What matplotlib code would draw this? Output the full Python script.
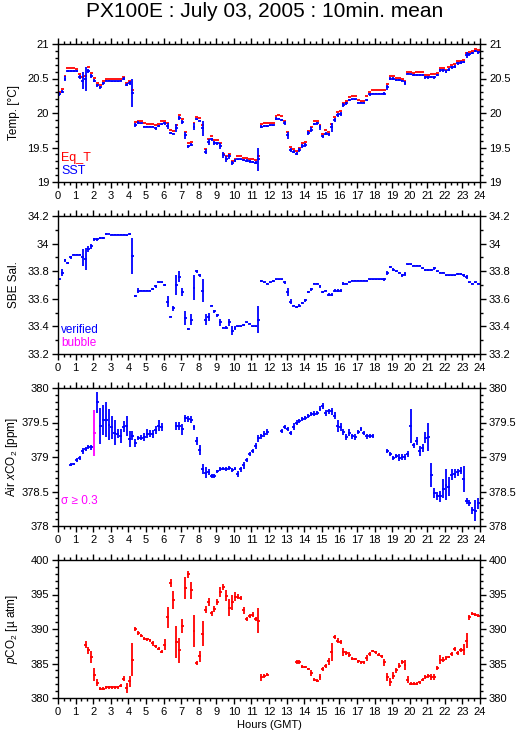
import numpy as np
import matplotlib
matplotlib.use("Agg")
import matplotlib.pyplot as plt
from matplotlib.ticker import MultipleLocator

plt.rcParams['font.family'] = ['Liberation Sans', 'DejaVu Sans']
plt.rcParams['mathtext.fontset'] = 'custom'
plt.rcParams['mathtext.rm'] = 'Liberation Sans'
plt.rcParams['mathtext.it'] = 'Liberation Sans:italic'

nan = np.nan

# 10 minute means, 6 per hour, 0h .. 24h
sst = [20.28, 20.31, 20.50, 20.61, 20.61, 20.61,
       20.61, 20.52, 20.47, 20.49, 20.61, 20.54,
       20.47, 20.40, 20.37, 20.43, 20.47, 20.47,
       20.46, 20.46, 20.46, 20.47, 20.50, 20.41,
       20.43, 20.29, 19.83, 19.86, 19.85, 19.80,
       19.80, 19.80, 19.80, 19.78, 19.81, 19.84,
       19.85, 19.81, 19.71, 19.70, 19.78, 19.93,
       19.87, 19.68, 19.52, 19.54, 19.80, 19.91,
       19.89, 19.78, 19.44, 19.58, 19.62, 19.56,
       19.56, 19.52, 19.39, 19.33, 19.37, 19.27,
       19.31, 19.33, 19.33, 19.32, 19.31, 19.30,
       19.29, 19.28, 19.33, 19.80, 19.81, 19.81,
       19.82, 19.82, 19.92, 19.92, 19.90, 19.86,
       19.68, 19.47, 19.44, 19.41, 19.46, 19.52,
       19.54, 19.71, 19.76, 19.84, 19.85, 19.79,
       19.66, 19.70, 19.69, 19.79, 19.90, 19.97,
       19.99, 20.11, 20.14, 20.19, 20.20, 20.20,
       20.15, 20.15, 20.15, 20.19, 20.27, 20.28,
       20.28, 20.28, 20.28, 20.28, 20.37, 20.50,
       20.50, 20.48, 20.48, 20.47, 20.43, 20.57,
       20.56, 20.55, 20.55, 20.55, 20.55, 20.52,
       20.52, 20.52, 20.52, 20.55, 20.62, 20.62,
       20.60, 20.63, 20.66, 20.67, 20.72, 20.73,
       20.74, 20.84, 20.85, 20.87, 20.90, 20.88]
sst_sd = [0.03, 0.02, 0.04, 0.02, 0.01, 0.01,
          0.01, 0.03, 0.12, 0.17, 0.03, 0.03,
          0.02, 0.02, 0.02, 0.02, 0.01, 0.01,
          0.01, 0.01, 0.01, 0.01, 0.02, 0.02,
          0.03, 0.20, 0.03, 0.02, 0.01, 0.01,
          0.01, 0.01, 0.01, 0.02, 0.02, 0.02,
          0.02, 0.04, 0.01, 0.01, 0.06, 0.03,
          0.03, 0.05, 0.02, 0.02, 0.05, 0.01,
          0.01, 0.11, 0.04, 0.04, 0.02, 0.03,
          0.02, 0.04, 0.04, 0.04, 0.03, 0.03,
          0.02, 0.01, 0.01, 0.01, 0.02, 0.02,
          0.02, 0.02, 0.17, 0.02, 0.02, 0.01,
          0.01, 0.01, 0.02, 0.01, 0.01, 0.03,
          0.05, 0.03, 0.02, 0.02, 0.03, 0.03,
          0.03, 0.03, 0.03, 0.02, 0.02, 0.03,
          0.02, 0.02, 0.02, 0.06, 0.03, 0.03,
          0.03, 0.03, 0.02, 0.02, 0.01, 0.01,
          0.01, 0.01, 0.01, 0.02, 0.02, 0.01,
          0.01, 0.01, 0.01, 0.02, 0.03, 0.02,
          0.02, 0.01, 0.01, 0.01, 0.03, 0.01,
          0.01, 0.01, 0.01, 0.01, 0.02, 0.02,
          0.02, 0.01, 0.02, 0.02, 0.02, 0.02,
          0.02, 0.02, 0.02, 0.02, 0.02, 0.02,
          0.02, 0.04, 0.02, 0.02, 0.02, 0.02]
eq_t = [20.31, 20.35, 20.53, 20.65, 20.65, 20.65,
        20.64, 20.57, 20.52, 20.54, 20.66, 20.58,
        20.51, 20.44, 20.41, 20.46, 20.50, 20.50,
        20.49, 20.49, 20.49, 20.50, 20.52, 20.44,
        20.46, 20.33, 19.87, 19.89, 19.88, 19.85,
        19.84, 19.84, 19.84, 19.82, 19.84, 19.88,
        19.88, 19.85, 19.75, 19.74, 19.82, 19.97,
        19.92, 19.72, 19.57, 19.58, 19.85, 19.94,
        19.93, 19.83, 19.48, 19.63, 19.67, 19.61,
        19.61, 19.56, 19.41, 19.38, 19.41, 19.31,
        19.34, 19.37, 19.37, 19.35, 19.35, 19.34,
        19.33, 19.32, 19.37, 19.84, 19.85, 19.85,
        19.85, 19.85, 19.96, 19.97, 19.95, 19.89,
        19.73, 19.51, 19.48, 19.45, 19.50, 19.56,
        19.58, 19.74, 19.79, 19.88, 19.89, 19.83,
        19.70, 19.75, 19.73, 19.84, 19.94, 20.01,
        20.03, 20.15, 20.18, 20.23, 20.24, 20.24,
        20.19, 20.18, 20.18, 20.24, 20.31, 20.33,
        20.33, 20.33, 20.33, 20.33, 20.42, 20.54,
        20.53, 20.51, 20.51, 20.50, 20.47, 20.60,
        20.59, 20.58, 20.59, 20.59, 20.59, 20.55,
        20.55, 20.56, 20.57, 20.58, 20.65, 20.65,
        20.63, 20.66, 20.69, 20.71, 20.75, 20.76,
        20.77, 20.87, 20.89, 20.90, 20.93, 20.91]

sal = [33.74, 33.79, 33.88, 33.86, 33.90, 33.92,
       33.92, 33.92, 33.90, 33.89, 33.96, 33.98,
       34.03, 34.03, 34.04, 34.04, 34.07, 34.07,
       34.065, 34.063, 34.063, 34.063, 34.063, 34.06,
       34.07, 33.91, 33.62, 33.66, 33.66, 33.66,
       33.66, 33.66, 33.67, 33.69, 33.72, 33.72,
       33.70, 33.58, 33.47, 33.53, 33.70, 33.76,
       33.65, 33.46, 33.38, 33.45, 33.68, 33.80,
       33.77, 33.66, 33.45, 33.47, 33.55, 33.51,
       33.48, 33.43, 33.39, 33.39, 33.43, 33.37,
       33.39, 33.40, 33.40, 33.41, 33.43, 33.42,
       33.40, 33.40, 33.45, 33.73, 33.72, 33.71,
       33.72, 33.73, 33.74, 33.74, 33.74, 33.72,
       33.65, 33.58, 33.55, 33.54, 33.55, 33.57,
       33.59, 33.65, 33.67, 33.71, 33.71, 33.69,
       33.65, 33.66, 33.63, 33.63, 33.66, 33.66,
       33.66, 33.71, 33.71, 33.72, 33.73, 33.73,
       33.73, 33.73, 33.73, 33.73, 33.74, 33.74,
       33.74, 33.74, 33.74, 33.74, 33.79, 33.83,
       33.81, 33.80, 33.79, 33.77, 33.78, 33.85,
       33.85, 33.84, 33.84, 33.84, 33.82, 33.81,
       33.81, 33.81, 33.82, 33.80, 33.79, 33.79,
       33.77, 33.77, 33.77, 33.77, 33.78, 33.78,
       33.77, 33.76, 33.72, 33.71, 33.72, 33.71]
sal_sd = [0.005, 0.025, 0.01, 0.005, 0.01, 0.005,
          0.005, 0.005, 0.06, 0.08, 0.02, 0.02,
          0.01, 0.01, 0.01, 0.005, 0.005, 0.003,
          0.003, 0.003, 0.003, 0.003, 0.003, 0.005,
          0.005, 0.13, 0.01, 0.015, 0.003, 0.003,
          0.003, 0.003, 0.005, 0.01, 0.005, 0.005,
          0.01, 0.04, 0.005, 0.02, 0.07, 0.04,
          0.03, 0.05, 0.005, 0.04, 0.09, 0.01,
          0.01, 0.08, 0.04, 0.03, 0.005, 0.01,
          0.01, 0.025, 0.005, 0.01, 0.025, 0.03,
          0.015, 0.005, 0.005, 0.005, 0.005, 0.005,
          0.005, 0.005, 0.10, 0.005, 0.005, 0.005,
          0.005, 0.005, 0.005, 0.003, 0.003, 0.01,
          0.03, 0.015, 0.005, 0.01, 0.01, 0.01,
          0.01, 0.01, 0.01, 0.005, 0.003, 0.01,
          0.01, 0.005, 0.01, 0.01, 0.01, 0.01,
          0.01, 0.01, 0.005, 0.003, 0.003, 0.003,
          0.003, 0.003, 0.003, 0.003, 0.003, 0.003,
          0.003, 0.003, 0.003, 0.01, 0.015, 0.01,
          0.01, 0.005, 0.005, 0.01, 0.015, 0.005,
          0.005, 0.005, 0.005, 0.005, 0.005, 0.005,
          0.005, 0.005, 0.01, 0.005, 0.005, 0.005,
          0.003, 0.003, 0.003, 0.003, 0.005, 0.01,
          0.01, 0.015, 0.005, 0.005, 0.005, 0.003]

xco2 = [nan, nan, nan, nan, 378.89, 378.90,
        378.96, 378.99, 379.09, 379.12, 379.14, 379.14,
        379.35, 379.79, 379.45, 379.54, 379.54, 379.47,
        379.43, 379.35, 379.34, 379.31, 379.44, 379.45,
        379.26, 379.31, 379.20, 379.28, 379.28, 379.29,
        379.34, 379.34, 379.33, 379.39, 379.45, 379.44,
        nan, nan, nan, nan, 379.45, 379.45,
        379.40, 379.56, 379.55, 379.54, 379.43, 379.23,
        379.10, 378.83, 378.77, 378.78, 378.72, 378.73,
        378.79, 378.82, 378.83, 378.83, 378.84, 378.81,
        378.83, 378.75, 378.82, 378.88, 378.96, 379.04,
        379.09, 379.16, 379.27, 379.30, 379.33, 379.36,
        nan, nan, nan, nan, 379.38, 379.43,
        379.41, 379.35, 379.44, 379.50, 379.52, 379.55,
        379.57, 379.59, 379.62, 379.63, 379.64, 379.70,
        379.74, 379.64, 379.66, 379.66, 379.60, 379.45,
        379.44, 379.36, 379.29, 379.35, 379.30, 379.29,
        379.36, 379.40, 379.35, 379.30, 379.30, 379.30,
        nan, nan, nan, nan, 379.09, 379.04,
        378.99, 379.02, 378.99, 379.00, 379.00, 379.04,
        379.45, 379.17, 379.23, 379.09, 379.13, 379.28,
        379.29, 378.74, 378.48, 378.43, 378.43, 378.54,
        378.60, 378.57, 378.74, 378.76, 378.78, 378.80,
        378.68, 378.36, 378.33, 378.23, 378.22, 378.33]
xco2_sd = [0, 0, 0, 0, 0.02, 0.02,
           0.03, 0.03, 0.04, 0.03, 0.03, 0.04,
           0.33, 0.15, 0.26, 0.22, 0.25, 0.22,
           0.17, 0.18, 0.06, 0.10, 0.08, 0.14,
           0.12, 0.06, 0.06, 0.03, 0.04, 0.06,
           0.06, 0.05, 0.06, 0.06, 0.08, 0.06,
           0, 0, 0, 0, 0.06, 0.06,
           0.08, 0.05, 0.04, 0.05, 0.04, 0.06,
           0.07, 0.07, 0.08, 0.04, 0.03, 0.03,
           0.02, 0.03, 0.02, 0.03, 0.03, 0.03,
           0.02, 0.04, 0.04, 0.05, 0.03, 0.03,
           0.03, 0.04, 0.05, 0.04, 0.04, 0.04,
           0, 0, 0, 0, 0.03, 0.03,
           0.03, 0.03, 0.05, 0.04, 0.03, 0.03,
           0.03, 0.03, 0.03, 0.03, 0.03, 0.04,
           0.04, 0.04, 0.04, 0.05, 0.05, 0.09,
           0.06, 0.04, 0.05, 0.05, 0.04, 0.05,
           0.03, 0.03, 0.03, 0.04, 0.03, 0.03,
           0, 0, 0, 0, 0.03, 0.03,
           0.03, 0.03, 0.05, 0.04, 0.04, 0.04,
           0.25, 0.04, 0.06, 0.07, 0.06, 0.08,
           0.21, 0.18, 0.07, 0.06, 0.08, 0.14,
           0.22, 0.14, 0.08, 0.06, 0.05, 0.05,
           0.19, 0.04, 0.04, 0.05, 0.15, 0.08]

pco2 = [nan, nan, nan, nan, nan, nan,
        nan, nan, nan, 387.75, 386.9, 385.95,
        383.4, 382.2, 381.35, 381.35, 381.55, 381.55,
        381.55, 381.55, 381.55, 381.8, 382.8, 381.45,
        382.4, 385.57, 390.0, 389.4, 389.05, 388.57,
        388.5, 388.38, 387.9, 387.5, 387.17, 386.7,
        387.75, 391.7, 396.7, 394.14, 388.1, 386.9,
        390.4, 395.9, 397.9, 395.6, 389.7, 385.1,
        386.05, 389.3, 392.8, 393.9, 392.25, 392.9,
        393.9, 395.4, 396.1, 394.8, 393.1, 393.9,
        394.7, 394.7, 394.5, 392.7, 391.4, 391.9,
        392.1, 391.5, 391.2, 383.0, 383.25, 383.4,
        nan, nan, nan, nan, nan, nan,
        nan, nan, nan, 385.2, 385.2, 384.55,
        384.5, 384.2, 383.6, 382.65, 382.5, 383.05,
        384.2, 384.6, 385.3, 386.6, 388.9, 388.3,
        388.1, 386.7, 386.5, 386.3, 385.7, 385.65,
        385.3, 385.2, 385.2, 385.8, 386.4, 386.8,
        386.6, 386.3, 386.05, 385.2, 383.05, 382.3,
        383.25, 384.0, 384.7, 385.2, 384.8, 382.65,
        382.1, 382.1, 382.1, 382.3, 382.65, 383.05,
        383.25, 383.05, 383.05, 384.35, 385.57, 385.57,
        385.8, 385.95, 386.4, 387.1, 386.5, 386.9,
        387.0, 388.3, 391.7, 392.2, 392.1, 391.95]
pco2_sd = [0, 0, 0, 0, 0, 0,
           0, 0, 0, 0.5, 0.5, 0.9,
           0.9, 0.5, 0.2, 0.2, 0.2, 0.2,
           0.2, 0.2, 0.2, 0.2, 0.4, 0.7,
           0.8, 2.4, 0.3, 0.3, 0.2, 0.2,
           0.2, 0.2, 0.3, 0.2, 0.2, 0.2,
           0.8, 1.5, 0.6, 1.3, 2.3, 1.8,
           1.0, 1.6, 0.5, 1.2, 2.3, 0.3,
           0.8, 1.8, 0.5, 0.6, 0.3, 0.4,
           0.4, 0.7, 0.4, 0.8, 1.2, 1.1,
           0.6, 0.4, 0.3, 0.5, 0.3, 0.3,
           0.3, 0.3, 1.8, 0.5, 0.3, 0.2,
           0, 0, 0, 0, 0, 0,
           0, 0, 0, 0.3, 0.3, 0.2,
           0.2, 0.2, 0.4, 0.2, 0.2, 0.4,
           0.3, 0.3, 0.5, 1.3, 0.3, 0.4,
           0.3, 0.6, 0.3, 0.3, 0.2, 0.2,
           0.2, 0.2, 0.2, 0.4, 0.3, 0.2,
           0.2, 0.2, 0.2, 0.5, 0.6, 0.6,
           0.5, 0.4, 0.4, 0.3, 0.7, 0.5,
           0.2, 0.2, 0.2, 0.2, 0.2, 0.3,
           0.3, 0.5, 0.5, 0.3, 0.6, 0.3,
           0.3, 0.2, 0.3, 0.3, 0.3, 0.3,
           0.8, 1.1, 0.4, 0.2, 0.2, 0.2]

hours = (np.arange(144) + 0.4) / 6.0
half = 1.0 / 12.0
lw = 1.3

fig = plt.figure(figsize=(5.29, 7.39), dpi=100)
fig.text(0.5, 0.984, "PX100E : July 03, 2005 : 10min. mean", ha='center', va='center', fontsize=15)

left, width, height = 58 / 529, 422 / 529, 138 / 739
bottoms = [1 - 182 / 739, 1 - 354 / 739, 1 - 526 / 739, 1 - 698 / 739]
axes = [fig.add_axes([left, b, width, height]) for b in bottoms]


def style(ax, ylim, major, minor, ylabel):
    ax.set_xlim(0, 24)
    ax.set_ylim(*ylim)
    ax.xaxis.set_major_locator(MultipleLocator(1))
    ax.xaxis.set_minor_locator(MultipleLocator(1 / 3))
    ax.yaxis.set_major_locator(MultipleLocator(major))
    ax.yaxis.set_minor_locator(MultipleLocator(minor))
    ax.tick_params(which='both', direction='out', top=True, right=True,
                   labelright=True, labelsize=8, width=1, pad=2)
    ax.tick_params(which='major', length=4.5)
    ax.tick_params(which='minor', length=2.5)
    for s in ax.spines.values():
        s.set_linewidth(1)
    ax.set_ylabel(ylabel, fontsize=8.5)
    ax.yaxis.set_label_coords(-0.09, 0.5)
    ax.yaxis.set_major_formatter(plt.FuncFormatter(lambda v, p: f"{v:g}"))


# Temperature
ax = axes[0]
ax.errorbar(hours, eq_t, xerr=half, fmt='none', ecolor='red', elinewidth=lw)
ax.errorbar(hours, sst, xerr=half, yerr=sst_sd, fmt='none', ecolor='blue', elinewidth=lw)
style(ax, (19, 21), 0.5, 0.1, "Temp. [°C]")
ax.text(0.008, 0.155, "Eq_T", color='red', transform=ax.transAxes, fontsize=9)
ax.text(0.008, 0.055, "SST", color='blue', transform=ax.transAxes, fontsize=9)

# Salinity
ax = axes[1]
ax.errorbar(hours, sal, xerr=half, yerr=sal_sd, fmt='none', ecolor='blue', elinewidth=lw)
style(ax, (33.2, 34.2), 0.2, 0.1, "SBE Sal.")
ax.text(0.008, 0.155, "verified", color='blue', transform=ax.transAxes, fontsize=8.5)
ax.text(0.008, 0.055, "bubble", color='magenta', transform=ax.transAxes, fontsize=8.5)

# Air xCO2
ax = axes[2]
xc = np.array(xco2)
xs = np.array(xco2_sd)
big = xs >= 0.3
ax.errorbar(hours[~big], xc[~big], xerr=half, yerr=xs[~big], fmt='none', ecolor='blue', elinewidth=lw)
ax.errorbar(hours[big], xc[big], xerr=half, yerr=xs[big], fmt='none', ecolor='magenta', elinewidth=lw)
style(ax, (378, 380), 0.5, 0.1, r"Air $x$CO$_2$ [ppm]")
ax.text(0.008, 0.16, "σ ≥ 0.3", color='magenta', transform=ax.transAxes, fontsize=8.5)

# pCO2
ax = axes[3]
ax.errorbar(hours, pco2, xerr=half, yerr=pco2_sd, fmt='none', ecolor='red', elinewidth=lw)
style(ax, (380, 400), 5, 1, r"$p$CO$_2$ [µ atm]")
ax.set_xlabel("Hours (GMT)", fontsize=8, labelpad=2)

fig.savefig("out.png", dpi=100)
